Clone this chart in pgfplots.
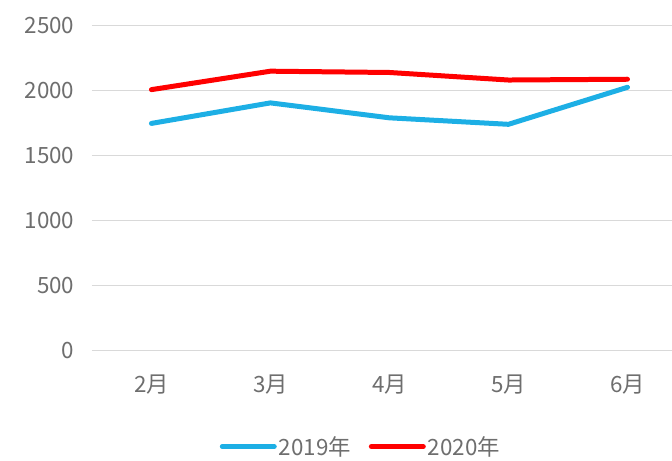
\documentclass[border=0pt]{standalone}
\usepackage{fontspec}
\setmainfont{Noto Sans CJK JP}
\usepackage{pgfplots}
\pgfplotsset{compat=1.18}
\definecolor{c19}{RGB}{29,175,229}
\definecolor{c20}{RGB}{255,0,0}
\definecolor{tgray}{RGB}{110,110,110}
\definecolor{ggray}{RGB}{217,217,217}
\begin{document}
\begin{tikzpicture}
\begin{axis}[
  at={(0,0)}, anchor=south west,
  scale only axis, width=580bp, height=325bp,
  xmin=-0.5, xmax=4.37, ymin=0, ymax=2500,
  ytick={0,500,1000,1500,2000,2500},
  xtick={0,1,2,3,4},
  xticklabels={2月,3月,4月,5月,6月},
  ymajorgrids, major grid style={ggray, line width=1pt},
  axis line style={draw=none},
  major tick length=0pt,
  tick label style={font=\fontsize{22.5}{26}\selectfont, text=tgray},
  /pgf/number format/assume math mode=true,
  /pgf/number format/1000 sep={},
  yticklabel style={xshift=-14bp},
  xticklabel style={yshift=-21bp},
  legend style={at={(0.464,-0.295)}, anchor=center, draw=none, fill=none,
    font=\fontsize{22.5}{26}\selectfont, text=tgray, legend columns=2,
    /tikz/every even column/.append style={column sep=16bp}},
  legend image code/.code={\draw[#1, line cap=round, line width=5bp] (0bp,0bp) -- (52bp,0bp);},
  clip=false,
]
\addplot[c19, line width=5bp, line join=round, line cap=round] coordinates {(0,1750) (1,1908) (2,1793) (3,1743) (4,2028)};
\addlegendentry{2019年}
\addplot[c20, line width=5bp, line join=round, line cap=round] coordinates {(0,2010) (1,2152) (2,2142) (3,2084) (4,2090)};
\addlegendentry{2020年}
\end{axis}
\useasboundingbox (-92bp,-106bp) rectangle (580bp,351bp);
\end{tikzpicture}
\end{document}
